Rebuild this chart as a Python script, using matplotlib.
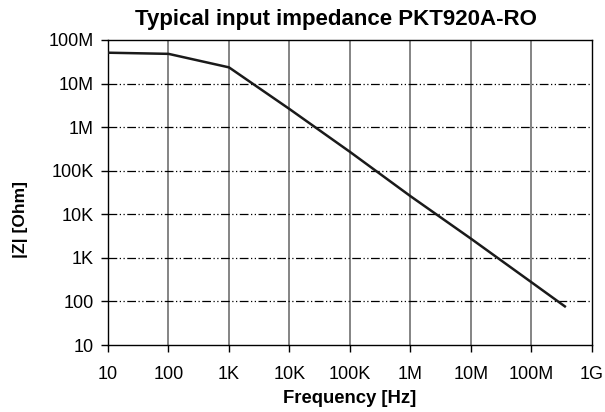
import matplotlib
matplotlib.use('Agg')
import matplotlib.pyplot as plt

plt.rcParams['font.family'] = ['Liberation Sans', 'DejaVu Sans']

# data
freq = [10, 100, 1e3, 1e4, 1e5, 1e6, 1e7, 1e8, 3.56e8]
impedance = [51e6, 48e6, 23.5e6, 2.6e6, 270e3, 26e3, 2.75e3, 275, 77]

x_ticks = [10, 100, 1e3, 1e4, 1e5, 1e6, 1e7, 1e8, 1e9]
x_labels = ['10', '100', '1K', '10K', '100K', '1M', '10M', '100M', '1G']
y_ticks = [10, 100, 1e3, 1e4, 1e5, 1e6, 1e7, 1e8]
y_labels = ['10', '100', '1K', '10K', '100K', '1M', '10M', '100M']

fig = plt.figure(figsize=(6.05, 4.12), dpi=100)
ax = fig.add_axes([0.1785, 0.1626, 0.80, 0.7404])

ax.set_xscale('log')
ax.set_yscale('log')
ax.set_xlim(10, 1e9)
ax.set_ylim(10, 1e8)

# grid: solid grey verticals, dash-dot-dot horizontals
for xv in x_ticks[1:-1]:
    ax.axvline(xv, color='#6f6f6f', lw=1.2, zorder=1)
for yv in y_ticks[1:-1]:
    ax.axhline(yv, color='black', lw=0.9, dashes=(7, 2, 1, 2, 1, 2), zorder=1)

ax.plot(freq, impedance, color='#1a1a1a', lw=1.8, zorder=3)

ax.set_xticks(x_ticks)
ax.set_xticklabels(x_labels)
ax.set_yticks(y_ticks)
ax.set_yticklabels(y_labels)
ax.minorticks_off()
ax.tick_params(axis='both', direction='out', length=5, width=1, labelsize=13)
ax.tick_params(axis='x', pad=10)
ax.tick_params(axis='y', pad=5)

for s in ax.spines.values():
    s.set_linewidth(1)
    s.set_color('black')

# title and y label are off-centre in the original, so place them by hand
fig.text(0.555, 0.952, 'Typical input impedance PKT920A-RO', fontsize=16,
         fontweight='bold', ha='center', va='center')
fig.text(0.034, 0.468, '|Z| [Ohm]', fontsize=12.5, fontweight='bold',
         rotation=90, ha='center', va='center')
ax.set_xlabel('Frequency [Hz]', fontsize=13.3, fontweight='bold', labelpad=5)

fig.savefig('out.png', dpi=100)
